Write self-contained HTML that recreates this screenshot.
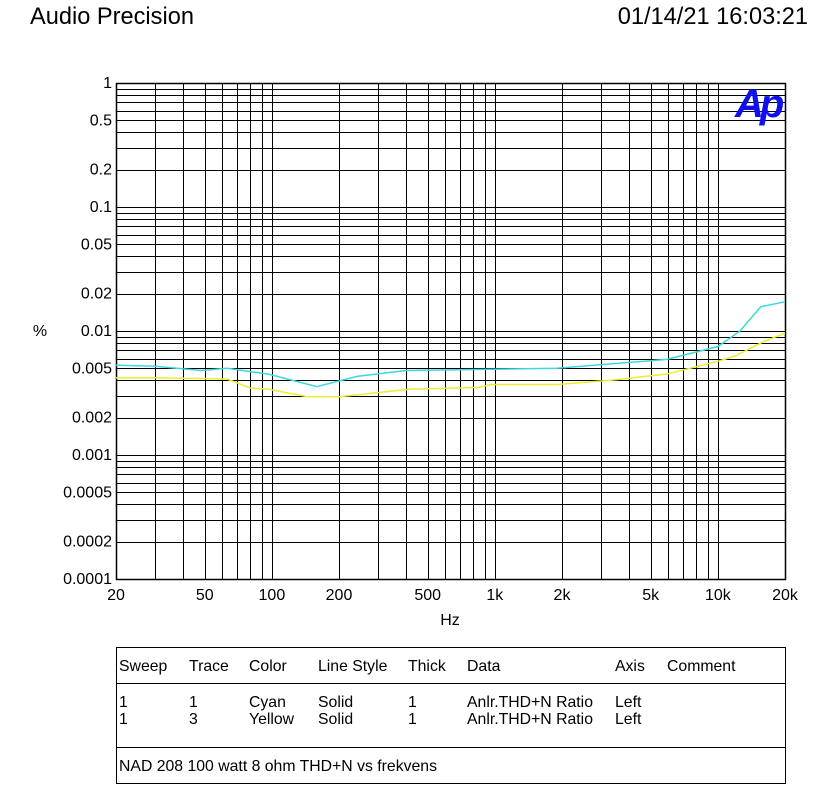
<!DOCTYPE html>
<html><head><meta charset="utf-8"><style>
body{margin:0;background:#fff;}
svg{display:block;font-family:"Liberation Sans",Arial,sans-serif;}
</style></head><body>
<svg id="c" width="840" height="798" viewBox="0 0 840 798">
<text x="30" y="24" font-size="23.6">Audio Precision</text>
<text x="808" y="24" font-size="23.6" text-anchor="end">01/14/21 16:03:21</text>
<g id="grid"></g>
<g id="ylab"></g>
<g id="xlab"></g>
<text x="40" y="336" font-size="16" text-anchor="middle">%</text>
<text x="450" y="625" font-size="16" text-anchor="middle">Hz</text>
<text x="735" y="117" font-size="40" font-weight="bold" font-style="italic" fill="#1010ee" letter-spacing="-4">Ap</text>
<g id="series"></g>
<g font-size="15.8">
<rect x="116.5" y="647.5" width="669" height="136" fill="none" stroke="#000"/>
<line x1="116" y1="683.5" x2="786" y2="683.5" stroke="#000"/>
<line x1="116" y1="747.5" x2="786" y2="747.5" stroke="#000"/>
<g>
<text x="119" y="671">Sweep</text><text x="189" y="671">Trace</text><text x="249" y="671">Color</text><text x="318" y="671">Line Style</text><text x="408" y="671">Thick</text><text x="467" y="671">Data</text><text x="615" y="671">Axis</text><text x="667" y="671">Comment</text>
</g>
<g>
<text x="119" y="707">1</text><text x="189" y="707">1</text><text x="249" y="707">Cyan</text><text x="318" y="707">Solid</text><text x="408" y="707">1</text><text x="467" y="707">Anlr.THD+N Ratio</text><text x="615" y="707">Left</text>
</g>
<g>
<text x="119" y="724">1</text><text x="189" y="724">3</text><text x="249" y="724">Yellow</text><text x="318" y="724">Solid</text><text x="408" y="724">1</text><text x="467" y="724">Anlr.THD+N Ratio</text><text x="615" y="724">Left</text>
</g>
<text x="119" y="771">NAD 208 100 watt 8 ohm THD+N vs frekvens</text>
</g>
</svg>
<script>
const yTicks=[1,0.5,0.2,0.1,0.05,0.02,0.01,0.005,0.002,0.001,0.0005,0.0002,0.0001];
const yTickLabels=["1","0.5","0.2","0.1","0.05","0.02","0.01","0.005","0.002","0.001","0.0005","0.0002","0.0001"];
const xTicks=[20,50,100,200,500,1000,2000,5000,10000,20000];
const xTickLabels=["20","50","100","200","500","1k","2k","5k","10k","20k"];
const cyanFreq=[20,30,48,63,96,159,241,400,1900,5900,10000,12500,15600,20000];
const cyanVal=[0.0053,0.0052,0.0048,0.005,0.0045,0.00356,0.0043,0.0048,0.005,0.0059,0.0075,0.0099,0.0157,0.0172];
const yellowFreq=[20,30,63,80,96,145,200,418,840,960,1900,3300,5900,10000,12000,16000,20000];
const yellowVal=[0.0042,0.0042,0.0041,0.00347,0.0034,0.00295,0.00295,0.0034,0.0035,0.0037,0.0037,0.004,0.0045,0.0057,0.0063,0.0082,0.0096];
const X0=116,X1=785,Y0=83,Y1=579;
const xs=f=>X0+(Math.log10(f)-Math.log10(20))/3*(X1-X0);
const ys=v=>Y0+(0-Math.log10(v))/4*(Y1-Y0);
const NS="http://www.w3.org/2000/svg";
function mk(tag,attrs,parent){const e=document.createElementNS(NS,tag);for(const k in attrs)e.setAttribute(k,attrs[k]);parent.appendChild(e);return e;}
const grid=document.getElementById('grid');
for(let d=-4;d<0;d++)for(let m=1;m<10;m++){const v=m*Math.pow(10,d);const y=Math.round(ys(v))+0.5;
 const l=mk('line',{x1:X0,x2:X1,y1:y,y2:y,stroke:'#000','stroke-width':1},grid);
 
 }
for(let d=1;d<5;d++)for(let m=1;m<10;m++){const f=m*Math.pow(10,d);if(f<20||f>20000)continue;const x=Math.round(xs(f))+0.5;
 const l=mk('line',{x1:x,x2:x,y1:Y0,y2:Y1,stroke:'#000','stroke-width':1},grid);
 
 }
const fr=mk('rect',{x:X0+0.5,y:Y0+0.5,width:X1-X0,height:Y1-Y0,fill:'none',stroke:'#000','stroke-width':1.5},grid);


const yl=document.getElementById('ylab');
yTicks.forEach((v,i)=>{const t=mk('text',{x:112,y:ys(v)+5,'font-size':16,'text-anchor':'end'},yl);t.textContent=yTickLabels[i];
 
 });
const xl=document.getElementById('xlab');
xTicks.forEach((f,i)=>{const t=mk('text',{x:xs(f),y:600,'font-size':16,'text-anchor':'middle'},xl);t.textContent=xTickLabels[i];
 
 });
const sg=document.getElementById('series');
function line(F,V,color,name){const p=mk('polyline',{points:F.map((f,i)=>xs(f).toFixed(1)+','+ys(V[i]).toFixed(1)).join(' '),fill:'none',stroke:color,'stroke-width':1.5},sg);
 
 }
line(cyanFreq,cyanVal,'#3cd8e0','cyan-trace');
line(yellowFreq,yellowVal,'#ecec30','yellow-trace');
</script>
</body></html>
